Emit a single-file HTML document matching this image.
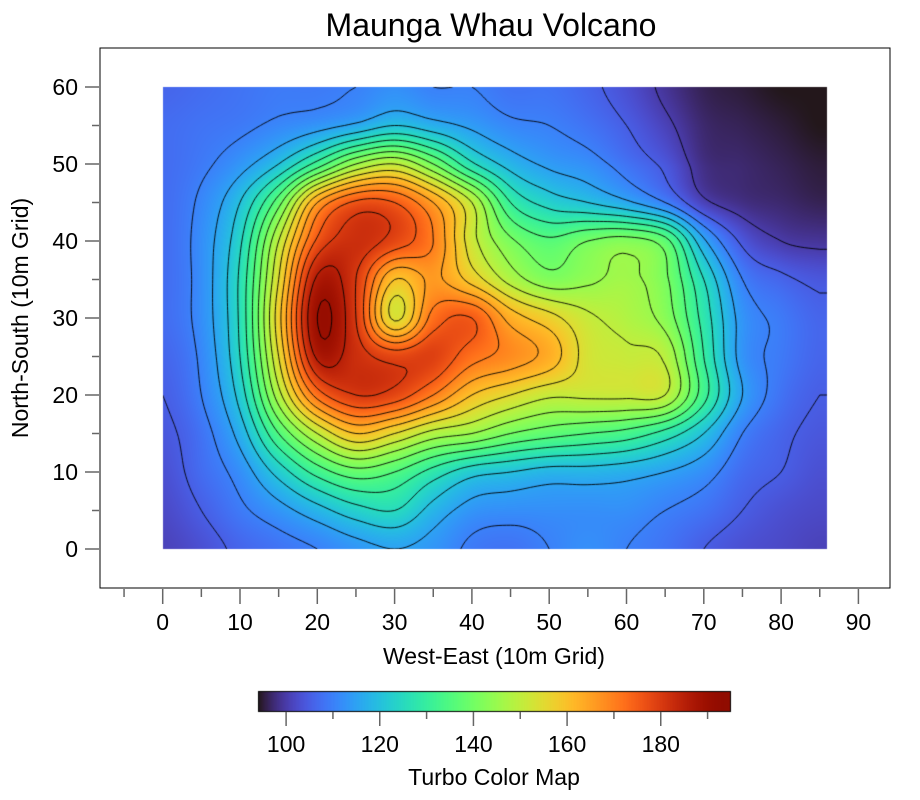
<!DOCTYPE html>
<html><head><meta charset="utf-8"><style>
html,body{margin:0;padding:0;background:#fff;}
body{width:920px;height:800px;position:relative;overflow:hidden;font-family:"Liberation Sans",sans-serif;}
svg text{font-family:"Liberation Sans",sans-serif;}
#heat{position:absolute;left:0;top:0;}
</style></head><body>
<canvas id="heat" width="920" height="800"></canvas>
<svg id="chart" width="920" height="800" style="position:absolute;left:0;top:0"></svg>
<script>
// Data: elevation grid, columns x = 0..85 step 5, rows y = 60 down to 0 step 5
const xCoords = [0,5,10,15,20,25,30,35,40,45,50,55,60,65,70,75,80,85];
const yCoords = [60,55,50,45,40,35,30,25,20,15,10,5,0];
const row60 = [106,107,108,109,109,110,112,110,110,108,108,106,103,99,96,95,94,94];
const row55 = [107,108,109,111,113,116,120,117,114,111,110,108,105,101,97,96,95,94];
const row50 = [107,109,113,120,132,145,150,140,126,118,114,112,108,104,98,97,96,95];
const row45 = [107,111,120,138,165,176,175,165,150,130,123,120,116,110,101,98,97,96];
const row40 = [107,112,124,150,176,182,178,170,152,141,136,140,142,137,116,104,100,99];
const row35 = [107,112,126,155,186,180,160,166,158,148,142,144,146,141,125,110,106,104];
const row30 = [107,112,126,158,190,180,154,172,175,163,157,151,148,143,128,113,109,106];
const row25 = [106,111,125,155,186,182,178,179,172,168,163,153,151,149,130,113,109,106];
const row20 = [105,110,122,148,172,180,178,170,160,155,151,151,151,150,132,115,108,105];
const row15 = [104,108,117,135,150,160,155,148,145,140,137,135,133,128,120,110,106,104];
const row10 = [103,107,112,122,132,138,135,128,122,120,118,118,117,115,112,107,105,103];
const row5  = [102,105,109,113,118,123,125,118,113,112,112,112,112,110,108,105,103,102];
const row0  = [101,103,106,108,110,113,115,113,109,108,110,112,110,108,105,103,102,101];
const grid = [row60,row55,row50,row45,row40,row35,row30,row25,row20,row15,row10,row5,row0];
const xTicks = [0,10,20,30,40,50,60,70,80,90];
const yTicks = [0,10,20,30,40,50,60];
const cbTicks = [100,120,140,160,180];
const zMin = 94, zMax = 195, xMaxData = 86;

const NS = "http://www.w3.org/2000/svg";
const svg = document.getElementById('chart');
const X = v => 162.7 + v*7.73;
const Y = v => 549 - v*7.7;
const CB = v => 258 + (v - zMin)/(zMax - zMin)*473;

function turbo(t){
  t=Math.max(0,Math.min(1,t));
  const r=0.13572138+t*(4.61539260+t*(-42.66032258+t*(132.13108234+t*(-152.94239396+t*59.28637943))));
  const g=0.09140261+t*(2.19418839+t*(4.84296658+t*(-14.18503333+t*(4.27729857+t*2.82956604))));
  const b=0.10667330+t*(12.64194608+t*(-60.58204836+t*(110.36276771+t*(-89.90310912+t*27.34824973))));
  return [r,g,b].map(c=>Math.round(Math.max(0,Math.min(1,c))*255));
}
const nR=grid.length, nC=grid[0].length;
function g(j,i){j=Math.max(0,Math.min(nR-1,j));i=Math.max(0,Math.min(nC-1,i));return grid[j][i];}
function cr(p0,p1,p2,p3,t){return p1+0.5*t*(p2-p0+t*(2*p0-5*p1+4*p2-p3+t*(3*(p1-p2)+p3-p0)));}
function val(x,y){
  let fx = Math.min(x,85)/5, fy = (60-y)/5;
  let i=Math.min(Math.floor(fx),nC-2), j=Math.min(Math.floor(fy),nR-2);
  let tx=fx-i, ty=fy-j;
  const r=[];
  for(let m=-1;m<=2;m++)r.push(cr(g(j+m,i-1),g(j+m,i),g(j+m,i+1),g(j+m,i+2),tx));
  return cr(r[0],r[1],r[2],r[3],ty);
}
const ctx = document.getElementById('heat').getContext('2d');
const x0=Math.round(X(0)), x1=Math.round(X(xMaxData)), y0=Math.round(Y(60)), y1=Math.round(Y(0));
const img = ctx.createImageData(x1-x0, y1-y0);
for(let py=0;py<y1-y0;py++){for(let px=0;px<x1-x0;px++){
  const dx=(px+0.5)/(x1-x0)*xMaxData, dy=60-(py+0.5)/(y1-y0)*60;
  const c=turbo((val(dx,dy)-zMin)/(zMax-zMin));
  const k=(py*(x1-x0)+px)*4; img.data[k]=c[0];img.data[k+1]=c[1];img.data[k+2]=c[2];img.data[k+3]=255;}}
ctx.putImageData(img,x0,y0);
ctx.strokeStyle='rgba(0,0,0,0.9)'; ctx.lineWidth=1;
ctx.save(); ctx.beginPath(); ctx.rect(x0,y0,x1-x0,y1-y0); ctx.clip();
const S=0.5;
for(let lev=100;lev<=190;lev+=5){
  ctx.beginPath();
  for(let gx=0;gx<xMaxData;gx+=S){for(let gy=0;gy<60;gy+=S){
    const p=[[gx,gy],[gx+S,gy],[gx+S,gy+S],[gx,gy+S]];
    const v=p.map(q=>val(q[0],q[1]));
    const pts=[];
    for(let e=0;e<4;e++){const a=v[e],b=v[(e+1)%4];
      if((a<lev)!==(b<lev)){const t=(lev-a)/(b-a);const A=p[e],B=p[(e+1)%4];
        pts.push([A[0]+(B[0]-A[0])*t, A[1]+(B[1]-A[1])*t]);}}
    for(let k=0;k+1<pts.length;k+=2){ctx.moveTo(X(pts[k][0]),Y(pts[k][1]));ctx.lineTo(X(pts[k+1][0]),Y(pts[k+1][1]));}
  }}
  ctx.stroke();
}
ctx.restore();
for(let px=0;px<473;px++){const c=turbo(px/473);ctx.fillStyle=`rgb(${c})`;ctx.fillRect(258+px,691,1,21);}
ctx.strokeStyle='#000';ctx.lineWidth=1;ctx.strokeRect(258.5,691.5,472,20);

function el(tag,attrs,name,text){const e=document.createElementNS(NS,tag);for(const k in attrs)e.setAttribute(k,attrs[k]);
  
  
  if(text!==undefined)e.textContent=text;svg.appendChild(e);return e;}
el('rect',{x:100,y:48,width:790,height:540,fill:'none',stroke:'#000','stroke-width':1},'plot-frame');
el('text',{x:491,y:36,'font-size':32,'text-anchor':'middle'},'chart-title','Maunga Whau Volcano');
for(let v=-5;v<=95;v+=5){const px=X(v);if(px<101||px>889)continue;const maj=v%10===0;
  el('line',{x1:px,x2:px,y1:589,y2:maj?604:597,stroke:'#666','stroke-width':1.5},'x-tick');}
xTicks.forEach(v=>el('text',{x:X(v),y:630,'font-size':23,'text-anchor':'middle'},'x-tick-label',String(v)));
for(let v=-5;v<=65;v+=5){const py=Y(v);if(py<49||py>587)continue;const maj=v%10===0;
  el('line',{x1:maj?85:92,x2:99,y1:py,y2:py,stroke:'#666','stroke-width':1.5},'y-tick');}
yTicks.forEach(v=>el('text',{x:78,y:Y(v)+8,'font-size':23,'text-anchor':'end'},'y-tick-label',String(v)));
el('text',{x:494,y:664,'font-size':23,'text-anchor':'middle'},'x-axis-title','West-East (10m Grid)');
el('text',{x:0,y:0,'font-size':23,'text-anchor':'middle',transform:'translate(28,318) rotate(-90)'},'y-axis-title','North-South (10m Grid)');
for(let v=100;v<=190;v+=10){const px=CB(v);const maj=v%20===0;
  el('line',{x1:px,x2:px,y1:712,y2:maj?726:719,stroke:'#666','stroke-width':1.5},'colorbar-tick');}
cbTicks.forEach(v=>el('text',{x:CB(v),y:752,'font-size':23,'text-anchor':'middle'},'colorbar-tick-label',String(v)));
el('text',{x:494,y:785,'font-size':23,'text-anchor':'middle'},'colorbar-title','Turbo Color Map');
</script>
</body></html>
